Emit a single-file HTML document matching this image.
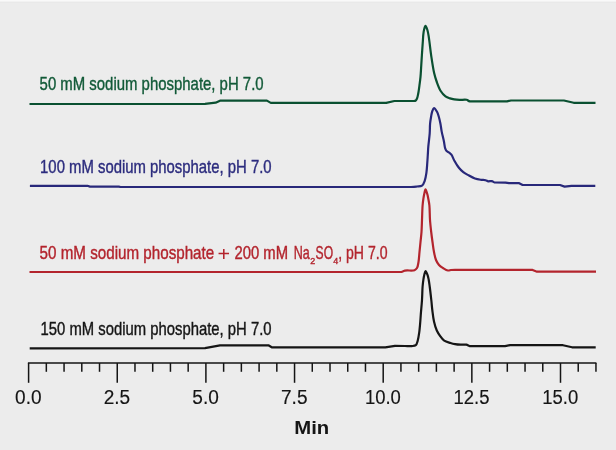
<!DOCTYPE html>
<html><head><meta charset="utf-8"><style>
html,body{margin:0;padding:0;background:#ececec;}
svg{display:block;will-change:transform;}
text{font-family:"Liberation Sans",sans-serif;}
</style></head><body>
<svg width="616" height="450" viewBox="0 0 616 450">
<rect width="616" height="450" fill="#ececec"/>
<rect width="616" height="1" fill="#f9f9f9"/><rect y="1" width="616" height="1" fill="#f2f2f2"/><rect y="2" width="616" height="1" fill="#e9e9e9"/>
<g fill="none" stroke-width="2.2" stroke-linejoin="round" stroke-linecap="butt">
<path stroke="#0a5031" d="M29.50,104.00 L205.00,103.90 L215.60,102.70 L220.00,100.70 L266.90,100.60 L270.80,102.90 L386.20,102.90 L394.40,101.00 L413.80,101.00 C414.68,100.92 415.01,101.00 415.50,100.70 C416.07,100.35 416.51,99.63 416.90,98.80 C417.47,97.60 417.77,95.82 418.15,94.00 C418.64,91.64 419.01,88.59 419.40,85.80 C419.80,82.90 420.22,79.87 420.50,76.90 C420.78,73.94 420.89,71.25 421.10,68.00 C421.35,64.08 421.61,59.45 421.90,55.00 C422.21,50.30 422.64,44.25 422.90,40.50 C423.06,38.13 423.10,36.55 423.30,34.70 C423.49,32.99 423.66,31.32 424.05,29.80 C424.41,28.41 424.96,25.92 425.50,25.90 C426.07,25.88 426.88,28.38 427.40,30.00 C428.09,32.15 428.40,34.66 428.90,37.80 C429.66,42.52 430.32,49.68 431.20,55.60 C432.08,61.52 433.07,68.46 434.20,73.30 C435.00,76.74 435.74,79.11 436.80,82.00 C437.90,85.01 439.10,88.49 440.70,91.00 C442.08,93.16 443.78,95.14 445.50,96.40 C446.92,97.44 448.49,97.89 450.00,98.40 C451.43,98.88 452.79,99.15 454.30,99.40 C455.94,99.67 457.63,99.82 459.50,99.90 C461.68,99.99 464.72,99.38 466.60,99.80 C467.95,100.10 468.13,100.99 469.90,101.40 L507.00,101.40 L511.00,100.50 L563.90,100.50 L573.70,102.80 L595.50,102.80"/>
<path stroke="#28287a" d="M29.90,185.80 L87.30,185.80 L90.00,186.60 L118.80,186.60 L120.50,187.00 L411.00,187.00 C414.50,186.85 415.10,186.73 417.00,186.50 C418.75,186.29 420.73,186.59 422.00,185.70 C423.34,184.76 424.00,182.69 424.70,180.80 C425.55,178.51 425.99,175.55 426.40,172.80 C426.83,169.92 426.97,166.87 427.20,163.90 C427.43,160.93 427.61,157.92 427.80,155.00 C427.98,152.19 428.05,149.79 428.30,146.70 C428.62,142.76 429.40,137.42 429.70,133.30 C429.96,129.78 429.82,126.46 430.10,123.50 C430.33,121.02 430.74,118.78 431.10,116.70 C431.41,114.93 431.58,113.29 432.10,111.80 C432.58,110.44 433.22,108.18 434.00,108.10 C434.83,108.01 436.21,110.41 437.00,111.80 C437.83,113.26 438.26,114.92 438.80,116.70 C439.42,118.76 439.93,121.13 440.40,123.50 C440.91,126.07 441.16,128.79 441.70,131.60 C442.30,134.70 443.29,138.31 443.90,141.30 C444.42,143.85 444.59,146.63 445.20,148.40 C445.59,149.55 445.93,150.40 446.60,151.10 C447.27,151.80 448.40,152.00 449.20,152.60 C450.00,153.20 450.69,153.74 451.40,154.70 C452.45,156.13 453.24,158.65 454.40,160.70 C455.70,163.00 457.29,165.79 458.90,167.80 C460.29,169.53 461.75,170.99 463.30,172.20 C464.73,173.31 466.11,173.97 467.80,174.90 C469.88,176.05 472.56,177.68 474.90,178.50 C476.99,179.23 479.19,179.52 481.10,179.80 C482.71,180.04 484.31,179.89 485.60,180.20 C486.64,180.45 487.32,181.14 488.30,181.30 C489.37,181.48 490.74,180.87 491.80,181.10 C492.79,181.31 493.25,182.19 494.50,182.50 L505.50,182.60 L509.00,183.20 L519.20,183.20 L522.60,185.00 L560.00,185.00 L564.60,186.60 L571.50,185.90 L595.30,185.90"/>
<path stroke="#b3242d" d="M29.50,272.00 L401.50,272.00 L405.00,270.60 C407.36,270.09 412.44,271.03 414.50,270.20 C415.72,269.71 416.36,269.04 417.00,268.00 C417.87,266.58 418.10,264.27 418.50,262.00 C419.00,259.11 419.17,255.33 419.50,252.00 C419.83,248.67 420.17,245.33 420.50,242.00 C420.83,238.67 421.25,235.49 421.50,232.00 C421.77,228.19 421.83,224.19 422.00,220.00 C422.19,215.40 422.29,209.42 422.60,205.50 C422.81,202.80 423.09,200.78 423.40,198.70 C423.67,196.93 423.94,195.38 424.30,193.80 C424.64,192.29 425.02,189.42 425.50,189.40 C425.99,189.38 426.74,192.28 427.20,193.80 C427.68,195.37 427.96,196.93 428.30,198.70 C428.70,200.78 429.13,202.80 429.40,205.50 C429.80,209.42 429.68,215.40 430.00,220.00 C430.30,224.19 430.76,228.19 431.20,232.00 C431.60,235.49 432.03,238.67 432.50,242.00 C432.97,245.34 433.37,248.87 434.00,252.00 C434.56,254.83 435.05,257.71 436.00,260.00 C436.80,261.93 437.77,263.64 439.00,265.00 C440.14,266.26 441.55,267.10 443.00,268.00 C444.53,268.95 446.51,270.28 448.00,270.50 C449.10,270.67 449.92,270.12 451.00,270.00 C452.23,269.87 452.83,269.85 455.00,269.80 L532.60,269.90 L537.00,271.70 L596.00,271.70"/>
<path stroke="#151515" d="M29.70,348.40 L205.00,348.20 L220.00,345.30 L268.40,345.30 L271.70,347.30 L385.30,347.30 L395.00,345.80 L405.00,346.00 C407.48,346.04 409.84,346.30 411.80,346.10 C413.32,345.94 414.83,346.01 415.80,345.20 C416.86,344.31 417.17,342.45 417.70,340.70 C418.38,338.44 418.79,335.61 419.20,332.70 C419.69,329.27 420.02,324.73 420.30,321.40 C420.52,318.76 420.59,317.08 420.80,314.30 C421.10,310.36 421.70,304.70 422.00,300.00 C422.29,295.44 422.30,290.23 422.60,286.50 C422.81,283.84 423.09,281.78 423.40,279.70 C423.67,277.93 423.92,276.31 424.30,274.80 C424.64,273.47 424.98,271.15 425.50,271.10 C426.04,271.05 426.98,273.44 427.50,274.80 C428.07,276.29 428.35,277.92 428.70,279.70 C429.11,281.77 429.35,283.85 429.70,286.50 C430.20,290.23 430.84,295.84 431.30,300.00 C431.69,303.58 431.87,306.56 432.30,310.00 C432.76,313.68 433.19,317.84 434.00,321.40 C434.73,324.63 435.63,327.89 436.80,330.50 C437.77,332.66 438.94,334.37 440.20,336.10 C441.42,337.76 442.54,339.56 444.20,340.70 C445.94,341.90 448.56,342.41 450.50,343.00 C452.11,343.49 453.40,343.82 455.00,344.10 C456.78,344.41 458.80,344.60 460.70,344.70 C462.60,344.80 464.77,344.38 466.40,344.70 C467.71,344.96 468.02,345.75 469.80,346.10 L505.00,346.10 L510.00,345.20 L563.00,345.20 L572.00,347.30 L595.70,347.30"/>
</g>
<g stroke="#151515" stroke-width="1.5">
<line x1="27.9" y1="363.1" x2="596.4" y2="363.1"/>
<line x1="28.60" y1="363" x2="28.60" y2="382.8"/><line x1="46.33" y1="363" x2="46.33" y2="371.8"/><line x1="64.06" y1="363" x2="64.06" y2="371.8"/><line x1="81.79" y1="363" x2="81.79" y2="371.8"/><line x1="99.52" y1="363" x2="99.52" y2="371.8"/><line x1="117.25" y1="363" x2="117.25" y2="382.8"/><line x1="134.98" y1="363" x2="134.98" y2="371.8"/><line x1="152.71" y1="363" x2="152.71" y2="371.8"/><line x1="170.44" y1="363" x2="170.44" y2="371.8"/><line x1="188.17" y1="363" x2="188.17" y2="371.8"/><line x1="205.90" y1="363" x2="205.90" y2="382.8"/><line x1="223.63" y1="363" x2="223.63" y2="371.8"/><line x1="241.36" y1="363" x2="241.36" y2="371.8"/><line x1="259.09" y1="363" x2="259.09" y2="371.8"/><line x1="276.82" y1="363" x2="276.82" y2="371.8"/><line x1="294.55" y1="363" x2="294.55" y2="382.8"/><line x1="312.28" y1="363" x2="312.28" y2="371.8"/><line x1="330.01" y1="363" x2="330.01" y2="371.8"/><line x1="347.74" y1="363" x2="347.74" y2="371.8"/><line x1="365.47" y1="363" x2="365.47" y2="371.8"/><line x1="383.20" y1="363" x2="383.20" y2="382.8"/><line x1="400.93" y1="363" x2="400.93" y2="371.8"/><line x1="418.66" y1="363" x2="418.66" y2="371.8"/><line x1="436.39" y1="363" x2="436.39" y2="371.8"/><line x1="454.12" y1="363" x2="454.12" y2="371.8"/><line x1="471.85" y1="363" x2="471.85" y2="382.8"/><line x1="489.58" y1="363" x2="489.58" y2="371.8"/><line x1="507.31" y1="363" x2="507.31" y2="371.8"/><line x1="525.04" y1="363" x2="525.04" y2="371.8"/><line x1="542.77" y1="363" x2="542.77" y2="371.8"/><line x1="560.50" y1="363" x2="560.50" y2="382.8"/><line x1="578.23" y1="363" x2="578.23" y2="371.8"/><line x1="595.96" y1="363" x2="595.96" y2="371.8"/>
</g>
<g font-size="19.5" fill="#151515" stroke="#151515" stroke-width="0.15">
<text x="15.05" y="404" textLength="26.5" lengthAdjust="spacingAndGlyphs">0.0</text><text x="103.70" y="404" textLength="26.5" lengthAdjust="spacingAndGlyphs">2.5</text><text x="192.35" y="404" textLength="26.5" lengthAdjust="spacingAndGlyphs">5.0</text><text x="281.00" y="404" textLength="26.5" lengthAdjust="spacingAndGlyphs">7.5</text><text x="364.90" y="404" textLength="36" lengthAdjust="spacingAndGlyphs">10.0</text><text x="453.55" y="404" textLength="36" lengthAdjust="spacingAndGlyphs">12.5</text><text x="542.20" y="404" textLength="36" lengthAdjust="spacingAndGlyphs">15.0</text>
</g>
<text x="294.3" y="434" font-size="19" font-weight="bold" fill="#151515" textLength="35" lengthAdjust="spacingAndGlyphs">Min</text>
<g font-size="18.6" stroke-width="0.4">
<text x="39.6" y="90.4" fill="#125a38" stroke="#125a38" textLength="224" lengthAdjust="spacingAndGlyphs">50 mM sodium phosphate, pH 7.0</text>
<text x="40.1" y="172.6" fill="#2c2c7e" stroke="#2c2c7e" textLength="231.5" lengthAdjust="spacingAndGlyphs">100 mM sodium phosphate, pH 7.0</text>
<g fill="#b3242d" stroke="#b3242d">
<text x="39.6" y="258.7" textLength="174.6" lengthAdjust="spacingAndGlyphs">50 mM sodium phosphate</text>
<text x="217.6" y="261" textLength="12.6" lengthAdjust="spacingAndGlyphs" font-size="20" stroke-width="0">+</text>
<text x="234.4" y="258.7" textLength="53.6" lengthAdjust="spacingAndGlyphs">200 mM</text>
<text x="293.8" y="258.7" textLength="16" lengthAdjust="spacingAndGlyphs">Na</text>
<text x="310.2" y="263.9" font-size="8.6" stroke-width="0.35" textLength="5" lengthAdjust="spacingAndGlyphs">2</text>
<text x="315.6" y="258.7" textLength="17.5" lengthAdjust="spacingAndGlyphs">SO</text>
<text x="333.3" y="263.9" font-size="8.6" stroke-width="0.35" textLength="5" lengthAdjust="spacingAndGlyphs">4</text>
<text x="338.2" y="258.7" textLength="49.3" lengthAdjust="spacingAndGlyphs">, pH 7.0</text>
</g>
<text x="40.6" y="335.1" fill="#151515" stroke="#151515" textLength="231" lengthAdjust="spacingAndGlyphs">150 mM sodium phosphate, pH 7.0</text>
</g>
</svg>
</body></html>
